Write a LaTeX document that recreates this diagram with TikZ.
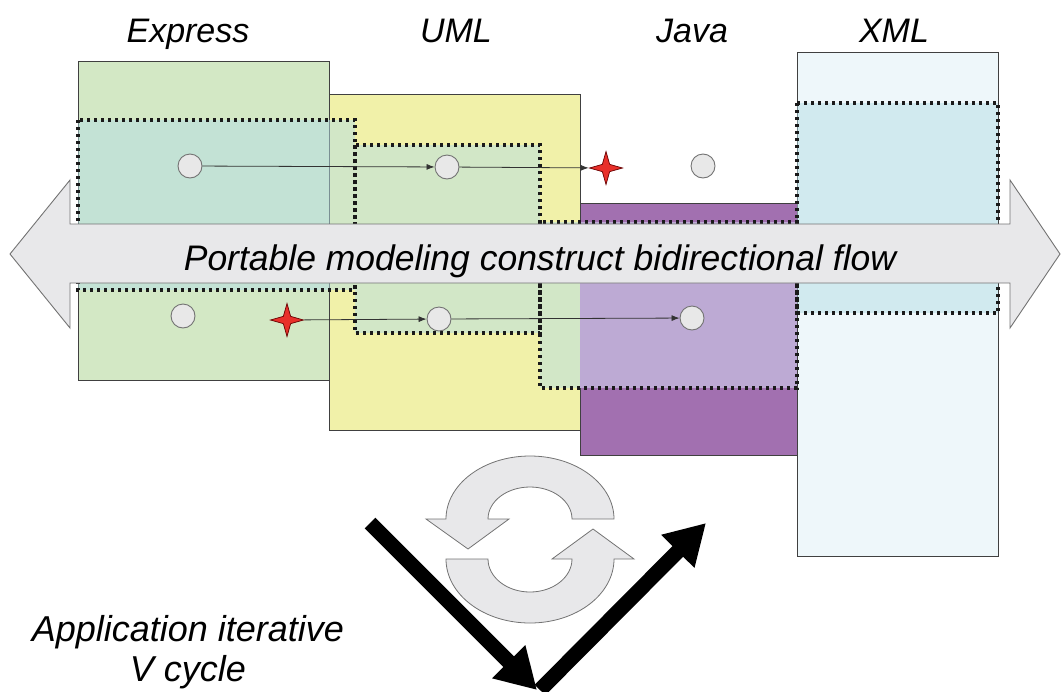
\documentclass[tikz,border=0pt]{standalone}
\usepackage{fontspec}
\setmainfont{Liberation Sans}
\usetikzlibrary{arrows.meta,shapes.geometric}
\definecolor{expgreen}{HTML}{D3E8C5}
\definecolor{umlyellow}{HTML}{F1F1A9}
\definecolor{javapurple}{HTML}{A270B0}
\definecolor{javalav}{HTML}{BDAAD4}
\definecolor{xmlcyan}{HTML}{EEF7FA}
\definecolor{overlay}{HTML}{B5DEE6}
\definecolor{flowgray}{HTML}{E8E8EA}
\definecolor{dotink}{HTML}{1A1A1A}
\definecolor{starred}{HTML}{E8302A}
\begin{document}
\begin{tikzpicture}[x=1pt,y=-1pt,
  langbox/.style={draw=black!75, line width=0.9pt},
  dotbox/.style={draw=dotink, line width=3.4pt, dash pattern=on 3.4pt off 3.6pt},
  ovl/.style={fill=overlay, fill opacity=0.5},
  title/.style={font=\fontsize{34}{40}\selectfont\itshape, anchor=base, inner sep=0pt},
  bigtext/.style={font=\fontsize{35.5}{40}\selectfont\itshape, anchor=base, inner sep=0pt},
  pt/.style={circle, minimum size=24pt, inner sep=0pt, fill=black!9, draw=black!55, line width=0.9pt},
  spark/.style={star, star points=4, star point ratio=3.2, minimum size=33pt, inner sep=0pt, fill=starred, draw=black!60!red, line width=0.7pt},
  conn/.style={draw=black!80, line width=0.8pt, -{Latex[length=8pt,width=6pt]}},
  cyc/.style={fill=flowgray, draw=black!55, line width=0.8pt},
  varrow/.style={line width=15pt, -{Triangle[length=40pt,width=44pt]}}
]
\useasboundingbox (0,0) rectangle (1062,691);

% language boxes
\draw[langbox, fill=expgreen] (78,61) rectangle (329,380);
\draw[langbox, fill=umlyellow] (329,94) rectangle (580,430);
\draw[langbox, fill=javapurple] (580,203) rectangle (797,455);
\draw[langbox, fill=xmlcyan] (797,52) rectangle (998,556);

% portable construct regions
\fill[ovl] (78,120) rectangle (355,290);
\fill[ovl] (355,145) rectangle (540,333);
\fill[ovl] (540,222) rectangle (797,388);
\fill[ovl] (797,103) rectangle (998,313);
\fill[javalav] (580,222) rectangle (797,388);

\draw[dotbox] (78,120) rectangle (355,290);
\draw[dotbox] (355,145) rectangle (540,333);
\draw[dotbox] (540,222) rectangle (797,388);
\draw[dotbox] (797,103) rectangle (998,313);

% bidirectional flow arrow
\draw[fill=flowgray, draw=black!55, line width=0.9pt]
  (10,254) -- (70,180) -- (70,224) -- (1010,224) -- (1010,180) -- (1060,254)
  -- (1010,328) -- (1010,283) -- (70,283) -- (70,328) -- cycle;
\node[bigtext] (flow) at (540,270) {Portable modeling construct bidirectional flow};

% titles
\node[title] (express) at (188,42) {Express};
\node[title] (uml) at (456,42) {UML};
\node[title] (java) at (692,42) {Java};
\node[title] (xml) at (894,42) {XML};

% construct points
\node[pt] (c1) at (190,166) {};
\node[pt] (c2) at (447,167) {};
\node[spark] (s1) at (606,168) {};
\node[pt] (c3) at (703,166) {};
\node[pt] (c4) at (183,316) {};
\node[spark] (s2) at (287,320) {};
\node[pt] (c5) at (439,319) {};
\node[pt] (c6) at (692,318) {};

\draw[conn] (c1) -- (c2);
\draw[conn] (c2) -- (s1);
\draw[conn] (s2) -- (c5);
\draw[conn] (c5) -- (c6);

% iteration cycle
\draw[cyc] (614,519) arc[start angle=0, end angle=-180, x radius=84, y radius=63]
  -- (426,519) -- (468,549) -- (509,519) -- (488,519)
  arc[start angle=-180, end angle=0, x radius=42, y radius=32] -- cycle;
\draw[cyc] (446,559) arc[start angle=180, end angle=0, x radius=84, y radius=64]
  -- (634,559) -- (593,529) -- (552,559) -- (572,559)
  arc[start angle=0, end angle=180, x radius=42, y radius=33] -- cycle;

% V cycle
\coordinate (vtop) at (370,523);
\coordinate (vtip) at (537,690);
\coordinate (vstart) at (540,690);
\coordinate (vend) at (706,523);
\draw[varrow] (vstart) -- (vend);
\draw[varrow] (vtop) -- (vtip);

\node[bigtext, font=\fontsize{36}{40}\selectfont\itshape] (app) at (188,641) {Application iterative};
\node[bigtext, font=\fontsize{36}{40}\selectfont\itshape] (vcyc) at (188,681) {V cycle};
\end{tikzpicture}
\end{document}
